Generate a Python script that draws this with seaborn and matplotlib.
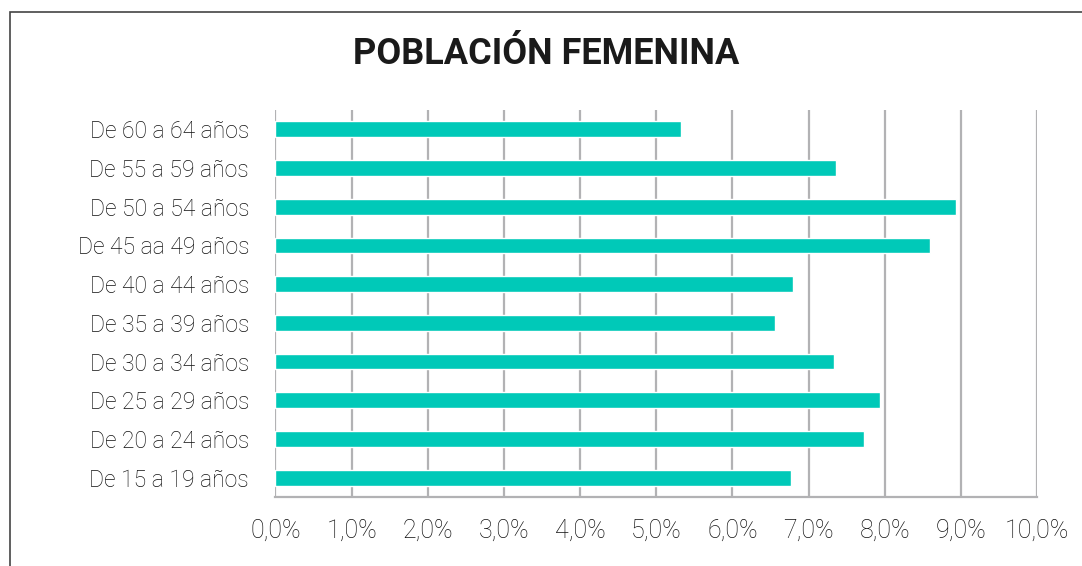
import matplotlib.pyplot as plt
import matplotlib.ticker as mticker
from matplotlib.patches import Rectangle
import seaborn as sns
import pandas as pd

grupos = ["De 60 a 64 años", "De 55 a 59 años", "De 50 a 54 años", "De 45 aa 49 años",
          "De 40 a 44 años", "De 35 a 39 años", "De 30 a 34 años", "De 25 a 29 años",
          "De 20 a 24 años", "De 15 a 19 años"]
porcentajes = [5.32, 7.36, 8.93, 8.60, 6.79, 6.56, 7.34, 7.94, 7.73, 6.77]
ticks_x = [0, 1, 2, 3, 4, 5, 6, 7, 8, 9, 10]

df = pd.DataFrame({"grupo": grupos, "pct": porcentajes})

sns.set_style("white")
plt.rcParams['font.family'] = ['Roboto', 'DejaVu Sans']

fig = plt.figure(figsize=(10.82, 5.66), dpi=100)
ax = fig.add_axes([0.2546, 0.1219, 0.7038, 0.6838])

sns.barplot(data=df, x="pct", y="grupo", order=grupos, color="#00c9b8",
            saturation=1, width=0.41, ax=ax, zorder=3)

ax.set_xlim(0, 10)
ax.set_xticks(ticks_x)
ax.xaxis.set_major_formatter(mticker.FuncFormatter(lambda v, p: f"{v:.1f}%".replace(".", ",")))
ax.grid(axis="x", color="#b2b2b4", linewidth=1.6, zorder=0)
ax.set_xlabel("")
ax.set_ylabel("")

for s in ["top", "right", "left"]:
    ax.spines[s].set_visible(False)
ax.spines["bottom"].set_color("#b2b2b4")
ax.spines["bottom"].set_linewidth(1.6)

ax.tick_params(axis="both", length=0)
ax.tick_params(axis="y", pad=19)
ax.tick_params(axis="x", pad=16)
for lbl in ax.get_yticklabels():
    lbl.set_fontweight('light')
    lbl.set_fontsize(16.5)
    lbl.set_color("#111111")
for lbl in ax.get_xticklabels():
    lbl.set_fontweight('light')
    lbl.set_fontsize(18)
    lbl.set_color("#111111")

fig.text(0.5045, 0.905, "POBLACIÓN FEMENINA", ha="center", va="center",
         fontsize=26, fontweight="bold", color="#1a1a1a")

fig.patches.append(Rectangle((10 / 1082, -0.5), 2, 0.5 + 1 - 12 / 566,
                             transform=fig.transFigure, fill=False,
                             edgecolor="#444444", linewidth=1.2))

fig.savefig("out.png", dpi=100)
